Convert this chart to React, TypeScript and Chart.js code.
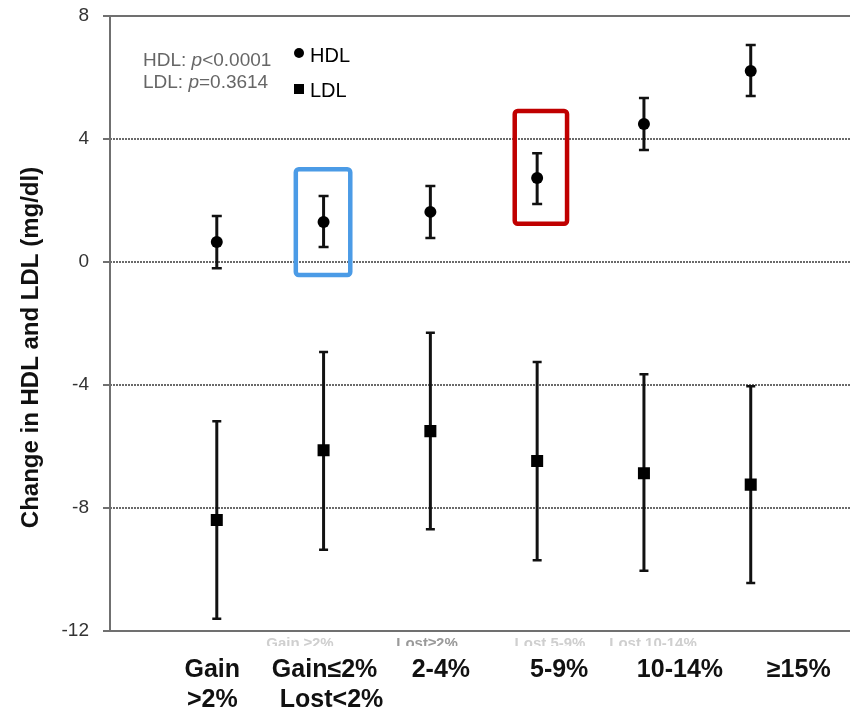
import React, { useEffect, useRef } from "react";
import { Chart, registerables } from "chart.js";

Chart.register(...registerables);

// ---- data ----
const categories = ["Gain >2%", "Gain≤2% Lost<2%", "2-4%", "5-9%", "10-14%", "≥15%"];
const xLabelLines: string[][] = [["Gain", ">2%"], ["Gain≤2%", "Lost<2%"], ["2-4%"], ["5-9%"], ["10-14%"], ["≥15%"]];
const hdlMean = [0.65, 1.3, 1.63, 2.73, 4.49, 6.21];
const hdlLower = [-0.2, 0.49, 0.78, 1.89, 3.64, 5.4];
const hdlUpper = [1.5, 2.15, 2.47, 3.54, 5.33, 7.06];
const ldlMean = [-8.39, -6.12, -5.5, -6.47, -6.87, -7.24];
const ldlLower = [-11.6, -9.36, -8.69, -9.7, -10.04, -10.44];
const ldlUpper = [-5.18, -2.93, -2.3, -3.25, -3.65, -4.04];
const yTicks = [8, 4, 0, -4, -8, -12];
const faintLabels = ["Gain ≥2%", "Lost≥2%", "Lost 5-9%", "Lost 10-14%"];

// highlight boxes in axis units
const boxes = [
  { xMin: 1.74, xMax: 2.25, yMin: -0.42, yMax: 3.02, color: "#4b9be6" },
  { xMin: 3.79, xMax: 4.28, yMin: 1.24, yMax: 4.91, color: "#c00000" },
];

const FONT = '"Liberation Sans", Arial, sans-serif';

// label horizontal offsets (px) from category center, per line
const labelOffsets = [[-4.5, -4.5], [1, 8], [10.5], [22], [36], [48]];
const faintCenters = [300, 427, 550, 653];
const faintColors = ["#cfcfcf", "#9a9a9a", "#cfcfcf", "#cfcfcf"];

const customPlugin = {
  id: "custom",
  beforeDraw(chart: any) {
    const { ctx, chartArea } = chart;
    const ys = chart.scales.y;
    ctx.save();
    ctx.fillStyle = "#ffffff";
    ctx.fillRect(0, 0, chart.width, chart.height);
    // grid lines
    yTicks.forEach((v) => {
      const py = Math.round(ys.getPixelForValue(v));
      ctx.beginPath();
      if (v === 8 || v === -12) {
        ctx.setLineDash([]);
        ctx.strokeStyle = "#707070";
        ctx.lineWidth = 2;
      } else {
        ctx.setLineDash([2, 1]);
        ctx.strokeStyle = "#6a6a6a";
        ctx.lineWidth = 2;
      }
      ctx.moveTo(chartArea.left, py);
      ctx.lineTo(chart.width, py);
      ctx.stroke();
      // tick mark
      ctx.setLineDash([]);
      ctx.strokeStyle = "#707070";
      ctx.lineWidth = 2;
      ctx.beginPath();
      ctx.moveTo(chartArea.left - 7, py);
      ctx.lineTo(chartArea.left, py);
      ctx.stroke();
    });
    // y axis line
    ctx.setLineDash([]);
    ctx.strokeStyle = "#707070";
    ctx.lineWidth = 2;
    ctx.beginPath();
    ctx.moveTo(chartArea.left, ys.getPixelForValue(8));
    ctx.lineTo(chartArea.left, ys.getPixelForValue(-12));
    ctx.stroke();
    ctx.restore();
  },
  beforeDatasetsDraw(chart: any) {
    const { ctx } = chart;
    const xs = chart.scales.x;
    const ys = chart.scales.y;
    ctx.save();
    ctx.strokeStyle = "#111111";
    const drawBars = (lo: number[], hi: number[], cap: number) => {
      lo.forEach((l, i) => {
        const px = xs.getPixelForValue(i + 1);
        const pl = ys.getPixelForValue(l);
        const ph = ys.getPixelForValue(hi[i]);
        ctx.lineWidth = 3;
        ctx.beginPath();
        ctx.moveTo(px, pl);
        ctx.lineTo(px, ph);
        ctx.stroke();
        ctx.lineWidth = 2.5;
        ctx.beginPath();
        ctx.moveTo(px - cap, pl);
        ctx.lineTo(px + cap, pl);
        ctx.moveTo(px - cap, ph);
        ctx.lineTo(px + cap, ph);
        ctx.stroke();
      });
    };
    drawBars(hdlLower, hdlUpper, 5);
    drawBars(ldlLower, ldlUpper, 4.5);
    ctx.restore();
  },
  afterDraw(chart: any) {
    const { ctx, chartArea } = chart;
    const xs = chart.scales.x;
    const ys = chart.scales.y;
    ctx.save();
    // highlight boxes
    boxes.forEach((b) => {
      const x1 = xs.getPixelForValue(b.xMin);
      const x2 = xs.getPixelForValue(b.xMax);
      const y1 = ys.getPixelForValue(b.yMax);
      const y2 = ys.getPixelForValue(b.yMin);
      ctx.strokeStyle = b.color;
      ctx.lineWidth = 4.5;
      ctx.lineJoin = "round";
      ctx.beginPath();
      if (ctx.roundRect) ctx.roundRect(x1, y1, x2 - x1, y2 - y1, 3);
      else ctx.rect(x1, y1, x2 - x1, y2 - y1);
      ctx.stroke();
    });

    // legend text
    ctx.textBaseline = "alphabetic";
    ctx.textAlign = "left";
    const drawStat = (prefix: string, rest: string, x: number, y: number) => {
      ctx.fillStyle = "#666666";
      ctx.font = `19px ${FONT}`;
      ctx.fillText(prefix, x, y);
      let cx = x + ctx.measureText(prefix).width;
      ctx.font = `italic 19px ${FONT}`;
      ctx.fillText("p", cx, y);
      cx += ctx.measureText("p").width;
      ctx.font = `19px ${FONT}`;
      ctx.fillText(rest, cx, y);
    };
    drawStat("HDL: ", "<0.0001", 143, 66);
    drawStat("LDL: ", "=0.3614", 143, 88);
    ctx.fillStyle = "#000000";
    ctx.beginPath();
    ctx.arc(299, 53, 5, 0, Math.PI * 2);
    ctx.fill();
    ctx.fillRect(294, 84, 10, 10);
    ctx.font = `20px ${FONT}`;
    ctx.fillText("HDL", 310, 62);
    ctx.fillText("LDL", 310, 97);

    // faint cut-off labels just below axis
    ctx.save();
    ctx.beginPath();
    ctx.rect(0, chartArea.bottom + 3, chart.width, 12);
    ctx.clip();
    ctx.textAlign = "center";
    ctx.font = `bold 15px ${FONT}`;
    faintLabels.forEach((t, i) => {
      ctx.fillStyle = faintColors[i];
      ctx.fillText(t, faintCenters[i], chartArea.bottom + 17);
    });
    ctx.restore();

    // category labels
    ctx.fillStyle = "#111111";
    ctx.textAlign = "center";
    ctx.font = `bold 25px ${FONT}`;
    xLabelLines.forEach((lines, i) => {
      const px = xs.getPixelForValue(i + 1);
      lines.forEach((t, j) => {
        ctx.fillText(t, px + labelOffsets[i][j], 677 + j * 30);
      });
    });

    // y title
    ctx.save();
    ctx.translate(31, (ys.getPixelForValue(8) + ys.getPixelForValue(-12)) / 2 + 24);
    ctx.rotate(-Math.PI / 2);
    ctx.textAlign = "center";
    ctx.textBaseline = "middle";
    ctx.font = `bold 24px ${FONT}`;
    ctx.fillStyle = "#111111";
    ctx.fillText("Change in HDL and LDL (mg/dl)", 0, 0);
    ctx.restore();

    ctx.restore();
  },
};

export default function App() {
  const ref = useRef<HTMLCanvasElement | null>(null);
  useEffect(() => {
    if (!ref.current) return;
    const chart = new Chart(ref.current, {
      type: "scatter",
      data: {
        labels: categories,
        datasets: [
          {
            label: "HDL",
            data: hdlMean.map((v, i) => ({ x: i + 1, y: v })),
            pointStyle: "circle",
            pointRadius: 6,
            pointHoverRadius: 6,
            backgroundColor: "#000000",
            borderColor: "#000000",
            borderWidth: 0,
          },
          {
            label: "LDL",
            data: ldlMean.map((v, i) => ({ x: i + 1, y: v })),
            pointStyle: "rect",
            pointRadius: 8.5,
            pointHoverRadius: 8.5,
            backgroundColor: "#000000",
            borderColor: "#000000",
            borderWidth: 0,
          },
        ],
      },
      options: {
        animation: false,
        responsive: false,
        devicePixelRatio: 1,
        layout: { padding: { top: 16, bottom: 79, left: 0, right: 0 } },
        plugins: { legend: { display: false }, tooltip: { enabled: false } },
        scales: {
          x: {
            type: "linear",
            display: false,
            min: 0,
            max: 6.85,
          },
          y: {
            min: -12,
            max: 8,
            afterFit: (s: any) => {
              s.width = 110;
              s.paddingTop = 0;
              s.paddingBottom = 0;
            },
            afterBuildTicks: (s: any) => {
              s.ticks = yTicks.map((v) => ({ value: v }));
            },
            grid: { display: false, drawTicks: false },
            border: { display: false },
            ticks: {
              padding: 21,
              color: "#333333",
              font: { family: FONT, size: 19 },
            },
          },
        },
      },
      plugins: [customPlugin],
    });
    return () => chart.destroy();
  }, []);
  return (
    <div style={{ position: "fixed", left: 0, top: 0, width: 850, height: 710, background: "#fff" }}>
      <canvas ref={ref} width={850} height={710} style={{ width: 850, height: 710 }} />
    </div>
  );
}
